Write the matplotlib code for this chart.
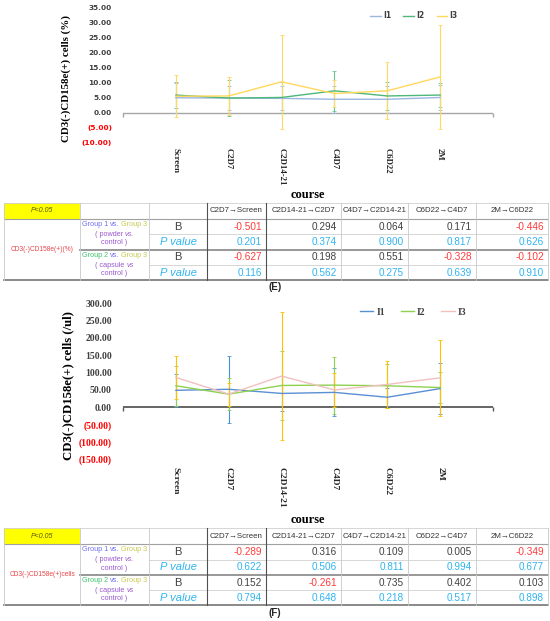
import numpy as np
import matplotlib
matplotlib.use('Agg')
import matplotlib.pyplot as plt
from matplotlib.patches import Rectangle

# ---- data ----
categories = ['Screen', 'C2D7', 'C2D14-21', 'C4D7', 'C6D22', '2M']
series = ['I1', 'I2', 'I3']

# (E) CD3(-)CD158e(+) cells (%)
pct_i1 = [4.9, 4.8, 4.7, 4.4, 4.4, 5.0]
pct_i2 = [5.8, 4.8, 5.0, 7.2, 5.5, 5.8]
pct_i3 = [5.4, 5.5, 10.2, 6.3, 7.2, 11.8]
pct_i1_err = [5.0, 4.1, 4.0, 4.4, 4.4, 4.0]
pct_i2_err = [4.3, 5.9, 5.0, 6.6, 4.7, 4.1]
pct_i3_err = [7.0, 6.4, 15.5, 4.6, 9.4, 17.1]
pct_ticks = [-10, -5, 0, 5, 10, 15, 20, 25, 30, 35]

# (F) CD3(-)CD158e(+) cells (/ul)
cnt_i1 = [49, 52, 40, 43, 29, 54]
cnt_i2 = [62, 38, 63, 64, 62, 57]
cnt_i3 = [86, 38, 90, 50, 66, 85]
cnt_i1_err = [48, 96, 50, 69, 26, 73]
cnt_i2_err = [58, 46, 100, 82, 63, 44]
cnt_i3_err = [62, 33, 185, 50, 69, 109]
cnt_ticks = [-150, -100, -50, 0, 50, 100, 150, 200, 250, 300]

# regression tables
intervals = ['C2D7→Screen', 'C2D14-21→C2D7', 'C4D7→C2D14-21', 'C6D22→C4D7', '2M→C6D22']
e_g1_b = [-0.501, 0.294, 0.064, 0.171, -0.446]
e_g1_p = [0.201, 0.374, 0.900, 0.817, 0.626]
e_g2_b = [-0.627, 0.198, 0.551, -0.328, -0.102]
e_g2_p = [0.116, 0.562, 0.275, 0.639, 0.910]
f_g1_b = [-0.289, 0.316, 0.109, 0.005, -0.349]
f_g1_p = [0.622, 0.506, 0.811, 0.994, 0.677]
f_g2_b = [0.152, -0.261, 0.735, 0.402, 0.103]
f_g2_p = [0.794, 0.648, 0.218, 0.517, 0.898]

# ---- figure ----
W, H = 550, 621
fig = plt.figure(figsize=(W / 100, H / 100), dpi=100)
fig.patch.set_facecolor('white')

def box(x0, y0, x1, y1):
    # pixel box (top-left origin) -> figure fraction
    return [x0 / W, 1 - y1 / H, (x1 - x0) / W, (y1 - y0) / H]

serif = 'Liberation Serif'
sans = ['Liberation Sans', 'DejaVu Sans']

# overlay axes for the tables and free text, 1 unit = 1 pixel
tab = fig.add_axes([0, 0, 1, 1])
tab.set_xlim(0, W)
tab.set_ylim(H, 0)
tab.axis('off')


def draw_chart(rect, means, errs, line_cols, err_cols, ticks, tick_font, tick_size,
               ylabel, ylabel_size, ylabel_x, leg_font, leg_size, leg_anchor,
               zero_col, zero_lw, xpad, xsize, course_y):
    ax = fig.add_axes(rect)
    ax.patch.set_alpha(0)
    x = np.arange(1, len(categories) + 1)
    for m, e, ec in zip(means, errs, err_cols):
        ax.errorbar(x, m, yerr=e, fmt='none', ecolor=ec, elinewidth=0.8,
                    capsize=1.3, capthick=0.6, zorder=2)
    for m, lc, name in zip(means, line_cols, series):
        ax.plot(x, m, color=lc, lw=1.0, label=name, zorder=3)
    ax.axhline(0, color=zero_col, lw=zero_lw, zorder=1)
    ax.plot([0, 7], [0, 0], ls='none', marker=3, ms=3, color=zero_col, clip_on=False)
    ax.set_xlim(0, 7)
    ax.set_ylim(ticks[0], ticks[-1])
    for s in ax.spines.values():
        s.set_visible(False)
    ax.set_yticks(ticks)
    ax.set_yticklabels([f'{v:.2f}' if v >= 0 else f'({-v:.2f})' for v in ticks],
                       fontsize=tick_size, fontweight='bold', family=tick_font)
    for lab, v in zip(ax.get_yticklabels(), ticks):
        lab.set_color('#FF0000' if v < 0 else '#404040')
    ax.tick_params(axis='y', length=0, pad=8)
    ax.set_xticks(x)
    ax.set_xticklabels(categories, rotation=270, fontsize=xsize, fontweight='bold',
                       family=serif, color='#262626')
    ax.tick_params(axis='x', length=0, pad=xpad)
    ax.legend(loc='center', bbox_to_anchor=leg_anchor, ncol=3, frameon=False,
              handlelength=1.4, handletextpad=0.3, columnspacing=1.6,
              prop={'family': leg_font, 'weight': 'bold', 'size': leg_size},
              labelcolor='#404040')
    # y label and "course"
    y0 = (1 - rect[1] - rect[3]) * H
    y1 = (1 - rect[1]) * H
    tab.text(ylabel_x, (y0 + y1) / 2 + 4, ylabel, rotation=90, ha='center', va='center',
             fontsize=ylabel_size, fontweight='bold', family=serif, color='black')
    tab.text(308, course_y, 'course', ha='center', va='center', fontsize=9,
             fontweight='bold', family=serif, color='black')
    return ax


draw_chart(box(123, 7, 493, 142.7),
           [pct_i1, pct_i2, pct_i3], [pct_i1_err, pct_i2_err, pct_i3_err],
           ['#9BB7E0', '#4DB87A', '#FFD85C'], ['#9BB7E0', '#6CC78F', '#FFD85C'],
           pct_ticks, 'DejaVu Sans', 5.3,
           'CD3(-)CD158e(+) cells (%)', 7.8, 66,
           'DejaVu Sans', 5.5, (0.786, 0.936),
           '#A6A6A6', 1.0, 3.8, 6.3, 195)

draw_chart(box(123, 303.3, 493, 459.3),
           [cnt_i1, cnt_i2, cnt_i3], [cnt_i1_err, cnt_i2_err, cnt_i3_err],
           ['#5B8FD4', '#8ED14F', '#F2C0C0'], ['#4A90D9', '#8ED14F', '#FFC000'],
           cnt_ticks, serif, 7.0,
           'CD3(-)CD158e(+) cells (/ul)', 9.2, 68,
           serif, 7.0, (0.784, 0.942),
           '#595959', 1.3, 5.5, 6.8, 520)

# ---- tables ----
renderer = fig.canvas.get_renderer()
col_x = [4, 80, 149, 207, 265.7, 340.7, 408, 476, 548]
row_off = [0, 16, 31.3, 47, 62, 77]
light, mid, dark = '#D0D0D0', '#A0A0A0', '#505050'
blue_t, yel_t, grn_t, pur_t = '#6F6FF0', '#C8C850', '#3CC36B', '#9B59D0'
neg_col, pos_col, p_col = '#FF3B3B', '#404040', '#2FB4F0'


def rich_line(xc, y, pieces, size):
    texts = []
    for s, col, style in pieces:
        texts.append(tab.text(0, y, s, color=col, fontsize=size, style=style,
                              ha='left', va='center', family=sans))
    widths = [t.get_window_extent(renderer).width for t in texts]
    gap = size * 0.28 * 100 / 72
    x = xc - (sum(widths) + gap * (len(texts) - 1)) / 2
    for t, w in zip(texts, widths):
        t.set_x(x)
        x += w + gap


def draw_table(y0, label, b1, p1, b2, p2, tag):
    ys = [y0 + d for d in row_off]
    # yellow corner cell
    tab.add_patch(Rectangle((col_x[0], ys[0]), col_x[1] - col_x[0], ys[1] - ys[0],
                            facecolor='#FFFF00', edgecolor='none'))
    tab.text((col_x[0] + col_x[1]) / 2, (ys[0] + ys[1]) / 2, 'P<0.05', style='italic',
             fontsize=5, color='#5A5A00', ha='center', va='center', family=sans)
    # horizontal rules
    tab.plot([col_x[0], col_x[-1]], [ys[0]] * 2, color=light, lw=0.6)
    tab.plot([col_x[0], col_x[-1]], [ys[1]] * 2, color=mid, lw=0.8)
    tab.plot([col_x[2], col_x[-1]], [ys[2]] * 2, color=light, lw=0.6)
    tab.plot([col_x[1], col_x[-1]], [ys[3]] * 2, color='#909090', lw=1.3)
    tab.plot([col_x[2], col_x[-1]], [ys[4]] * 2, color=light, lw=0.6)
    tab.plot([col_x[0], col_x[-1]], [ys[5]] * 2, color='#808080', lw=1.3)
    # vertical rules
    for i, xv in enumerate(col_x):
        c, lw = (dark, 0.8) if i in (3, 4) else ('#C8C8C8', 0.6)
        tab.plot([xv, xv], [ys[0], ys[5]], color=c, lw=lw)
    # header
    for i, name in enumerate(intervals):
        tab.text((col_x[3 + i] + col_x[4 + i]) / 2, (ys[0] + ys[1]) / 2, name,
                 fontsize=5.7, color='#333333', ha='center', va='center', family=sans)
    # row label
    tab.text((col_x[0] + col_x[1]) / 2, (ys[1] + ys[5]) / 2, label, fontsize=4.8,
             color='#E8474B', ha='center', va='center', family=sans)
    xc = (col_x[1] + col_x[2]) / 2
    for k, (g, gc, vs_col, kind) in enumerate([('Group 1', blue_t, blue_t, 'powder'),
                                              ('Group 2', grn_t, blue_t, 'capsule')]):
        top = ys[1 + 2 * k]
        rich_line(xc, top + 5.3, [(g, gc, 'normal'), ('vs.', vs_col, 'normal'),
                                  ('Group 3', yel_t, 'normal')], 5.2)
        rich_line(xc, top + 15.3, [('( ' + kind, pur_t, 'normal'),
                                   ('vs.' if k == 0 else 'vs', pur_t, 'italic')], 5.2)
        rich_line(xc, top + 23.7, [('control )', pur_t, 'normal')], 5.2)
    # stat labels and values
    xs = (col_x[2] + col_x[3]) / 2
    for r, (vals, is_p) in enumerate([(b1, False), (p1, True), (b2, False), (p2, True)]):
        yc = (ys[1 + r] + ys[2 + r]) / 2
        if is_p:
            tab.text(xs, yc, 'P value', style='italic', fontsize=8, color=p_col,
                     ha='center', va='center', family=sans)
        else:
            tab.text(xs, yc, 'B', fontsize=8, color='#404040', ha='center',
                     va='center', family=sans)
        for i, v in enumerate(vals):
            col = p_col if is_p else (neg_col if v < 0 else pos_col)
            tab.text(col_x[4 + i] - 4, yc, f'{v:.3f}', fontsize=7.2, color=col,
                     ha='right', va='center', family=sans)
    tab.text(275, ys[5] + 7.5, tag, fontsize=7, fontweight='bold', color='#262626',
             ha='center', va='center', family=sans)


draw_table(203, 'CD3(-)CD158e(+)(%)', e_g1_b, e_g1_p, e_g2_b, e_g2_p, '(E)')
draw_table(528.3, 'CD3(-)CD158e(+)cells', f_g1_b, f_g1_p, f_g2_b, f_g2_p, '(F)')

fig.savefig('out.png', dpi=100, facecolor='white')
